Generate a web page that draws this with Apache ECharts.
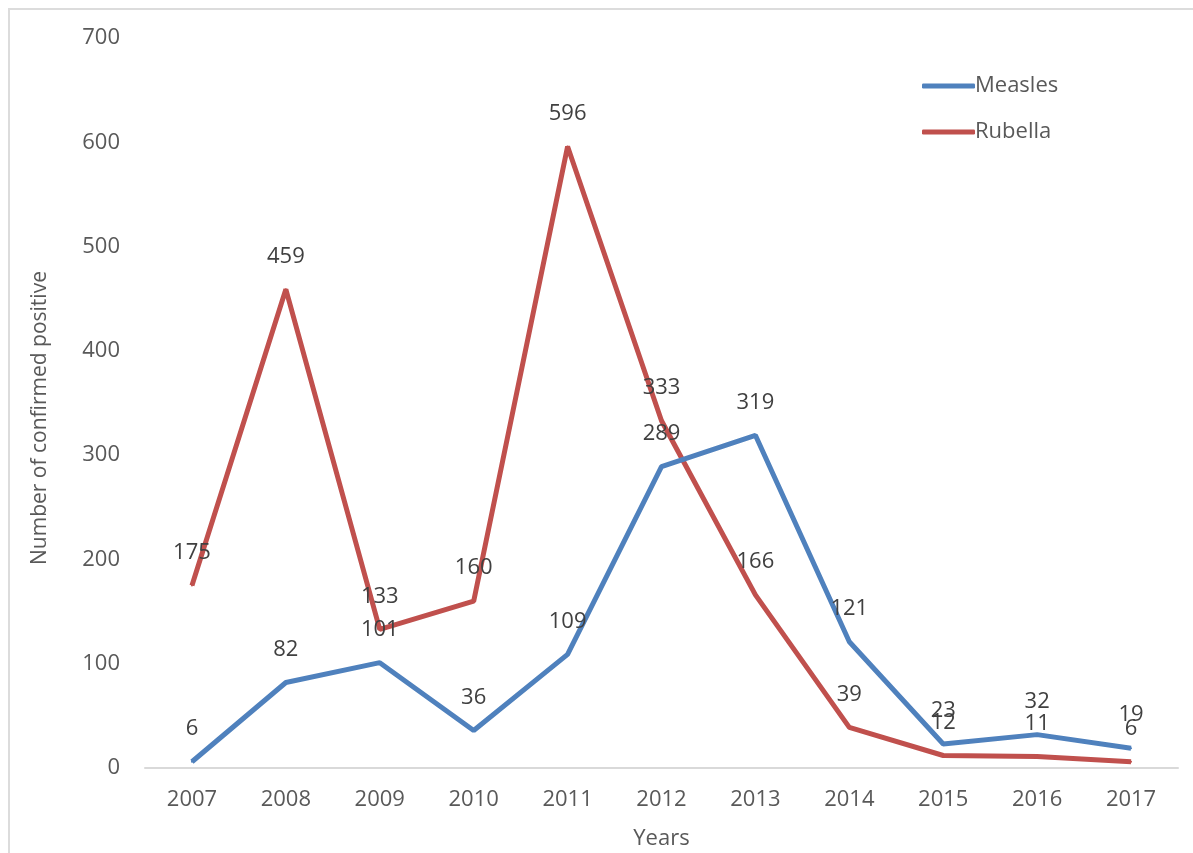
<!DOCTYPE html>
<html>
<head>
<meta charset="utf-8">
<script src="https://cdn.jsdelivr.net/npm/echarts@6/dist/echarts.min.js"></script>
<style>
html,body{margin:0;padding:0;background:#fff;overflow:hidden;width:1193px;height:853px;}
#frame{position:absolute;left:8px;top:8px;width:1185px;height:845px;border-left:2px solid #dcdcdc;border-top:2px solid #dcdcdc;box-sizing:border-box;}
#chart{position:absolute;left:0;top:0;width:1193px;height:853px;}
</style>
</head>
<body>
<div id="frame"></div>
<div id="chart"></div>
<script>
const years = ['2007','2008','2009','2010','2011','2012','2013','2014','2015','2016','2017'];
const measles = [6, 82, 101, 36, 109, 289, 319, 121, 23, 32, 19];
const rubella = [175, 459, 133, 160, 596, 333, 166, 39, 12, 11, 6];
const yTitle = 'Number of confirmed positive';
const xTitle = 'Years';

const FONT = 'Open Sans';
const chart = echarts.init(document.getElementById('chart'), null, {renderer:'canvas'});
const labelStyle = {show:true, position:'top', distance:21, color:'#404040', fontSize:22, fontFamily:FONT};
chart.setOption({
  backgroundColor:'transparent',
  animation:false,
  grid:{left:145, right:15, top:38, bottom:85, containLabel:false, outerBoundsMode:'none'},
  legend:{
    orient:'vertical', left:917, top:70, itemWidth:53, itemHeight:5, itemGap:24,
    icon:'roundRect',
    textStyle:{fontFamily:FONT, fontSize:22, color:'#595959', padding:[0,0,0,-5]},
    data:['Measles','Rubella']
  },
  graphic:[{
    type:'text', x:40, y:418, rotation:Math.PI/2,
    style:{text:yTitle, fontFamily:FONT, fontSize:21, fill:'#595959', align:'center', verticalAlign:'middle'}
  }],
  xAxis:{
    type:'category', data:years, boundaryGap:true,
    name:xTitle, nameLocation:'middle', nameGap:60,
    nameTextStyle:{fontFamily:FONT, fontSize:22, color:'#595959'},
    axisLine:{show:true, lineStyle:{color:'#d9d9d9', width:2}},
    axisTick:{show:false},
    axisLabel:{fontFamily:FONT, fontSize:22, color:'#595959', margin:21}
  },
  yAxis:{
    type:'value', min:0, max:700, interval:100,
    axisLine:{show:false}, axisTick:{show:false}, splitLine:{show:false},
    axisLabel:{fontFamily:FONT, fontSize:22, color:'#595959', margin:25}
  },
  series:[
    {name:'Measles', type:'line', data:measles, symbol:'circle', symbolSize:2,
     itemStyle:{color:'#4F81BD'}, lineStyle:{color:'#4F81BD', width:5}, label:labelStyle, z:3},
    {name:'Rubella', type:'line', data:rubella, symbol:'circle', symbolSize:2,
     itemStyle:{color:'#C0504D'}, lineStyle:{color:'#C0504D', width:5}, label:labelStyle, z:2}
  ]
});
</script>
</body>
</html>
